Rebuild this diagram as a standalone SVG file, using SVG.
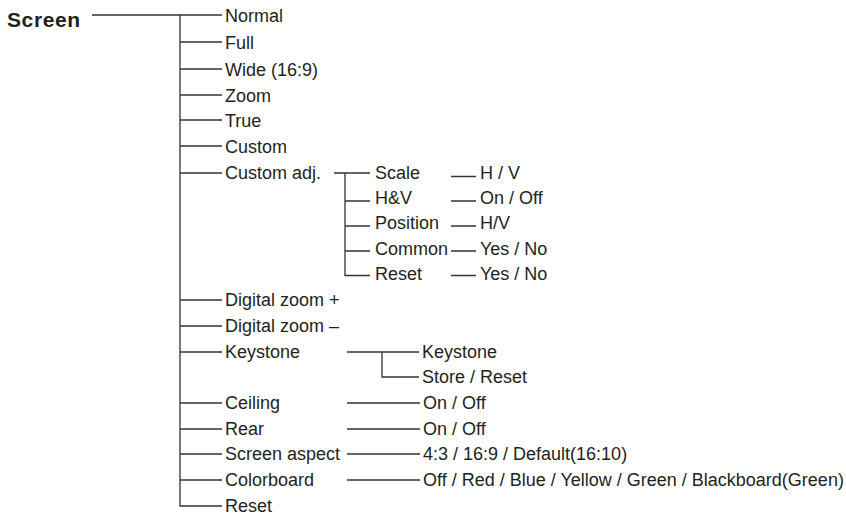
<svg xmlns="http://www.w3.org/2000/svg" width="846" height="515" viewBox="0 0 846 515">
<style>
text{font-family:"Liberation Sans",Arial,sans-serif;font-size:18px;fill:#231f20}
.b{font-weight:bold;font-size:21px;letter-spacing:0.6px}
.c{fill:none;stroke:#333;stroke-width:1.3}
</style>
<rect width="846" height="515" fill="#fff"/>
<g id="connectors" class="c">
<path d="M92 15H222M180 15V506H222"/>
<path d="M180 42H222M180 69H222M180 95H222M180 120H222M180 146H222M180 173H222"/>
<path d="M180 300H222M180 326H222M180 352H222M180 403H222M180 429H222M180 454H222M180 480H222"/>
<path d="M334 173H370M345 173V275.5H370M345 201H370M345 226H370M345 251H370"/>
<path d="M451 176.5H476M451 201H476M451 226H476M451 251H476M451 275.5H476"/>
<path d="M347 352H419M382 352V377H419"/>
<path d="M347 403H420M347 429H420M347 454H420M347 480H420"/>
</g>
<g id="screen"><text class="b" x="7" y="26.5">Screen</text></g>
<g id="normal"><text x="225" y="21.5">Normal</text></g>
<g id="full"><text x="225" y="48.5">Full</text></g>
<g id="wide"><text x="225" y="75.5">Wide (16:9)</text></g>
<g id="zoom"><text x="225" y="101.5">Zoom</text></g>
<g id="true"><text x="225" y="126.5">True</text></g>
<g id="custom"><text x="225" y="152.5">Custom</text></g>
<g id="customadj"><text x="225" y="179">Custom adj.</text></g>
<g id="scale"><text x="375" y="178.5">Scale</text></g>
<g id="hv"><text x="375" y="203.5">H&amp;V</text></g>
<g id="position"><text x="375" y="229">Position</text></g>
<g id="common"><text x="375" y="254.5">Common</text></g>
<g id="reset2"><text x="375" y="279.5">Reset</text></g>
<g id="scale-v"><text x="480" y="178.5">H / V</text></g>
<g id="hv-v"><text x="480" y="203.5">On / Off</text></g>
<g id="position-v"><text x="480" y="229">H/V</text></g>
<g id="common-v"><text x="480" y="254.5">Yes / No</text></g>
<g id="reset2-v"><text x="480" y="279.5">Yes / No</text></g>
<g id="dzoomp"><text x="225" y="306">Digital zoom +</text></g>
<g id="dzoomm"><text x="225" y="332">Digital zoom –</text></g>
<g id="keystone"><text x="225" y="358">Keystone</text></g>
<g id="keystone2"><text x="422" y="358">Keystone</text></g>
<g id="storereset"><text x="422" y="383">Store / Reset</text></g>
<g id="ceiling"><text x="225" y="409">Ceiling</text></g>
<g id="ceiling-v"><text x="423" y="409">On / Off</text></g>
<g id="rear"><text x="225" y="435">Rear</text></g>
<g id="rear-v"><text x="423" y="435">On / Off</text></g>
<g id="aspect"><text x="225" y="460">Screen aspect</text></g>
<g id="aspect-v"><text x="423" y="460">4:3 / 16:9 / Default(16:10)</text></g>
<g id="colorboard"><text x="225" y="486">Colorboard</text></g>
<g id="colorboard-v"><text x="423" y="486">Off / Red / Blue / Yellow / Green / Blackboard(Green)</text></g>
<g id="reset"><text x="225" y="512">Reset</text></g>
</svg>
